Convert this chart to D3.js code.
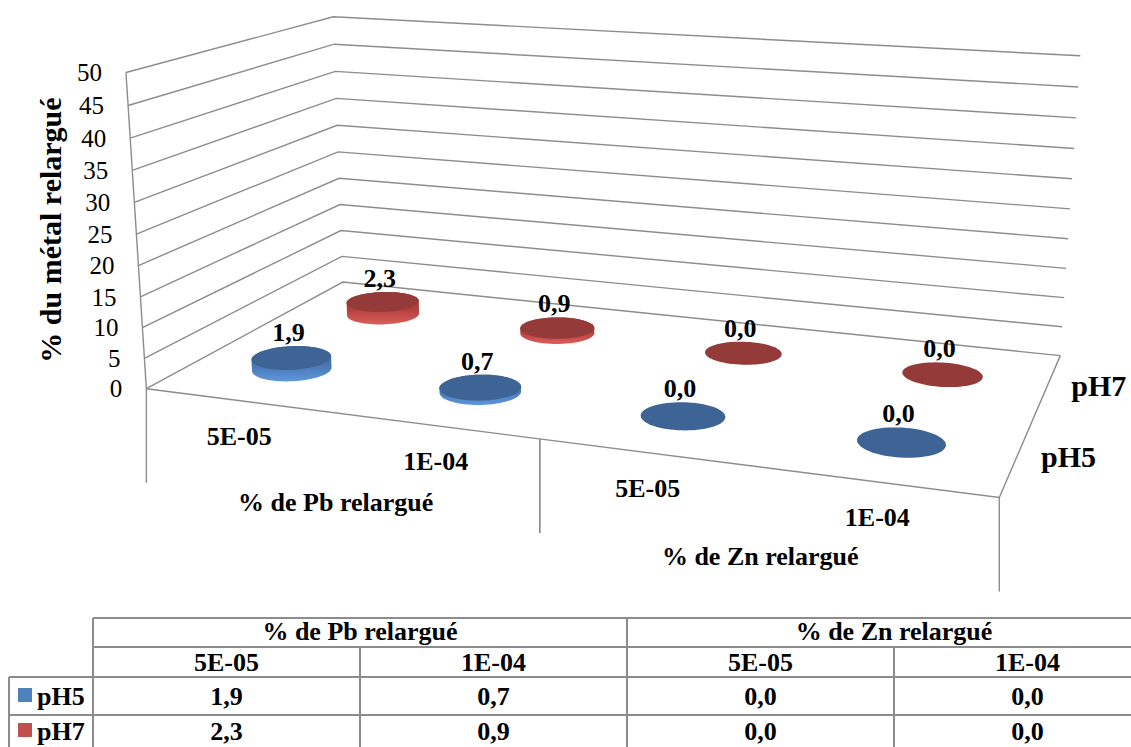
<!DOCTYPE html>
<html lang="fr">
<head>
  <meta charset="UTF-8" />
  <title>% du métal relargué</title>
  <script src="https://cdnjs.cloudflare.com/ajax/libs/d3/7.8.5/d3.min.js"></script>
  <style>
    body {
      margin: 0;
      background: #fff;
    }

    svg {
      display: block;
    }

    text {
      font-family: "Liberation Serif", "Times New Roman", "DejaVu Serif", serif;
      fill: #000;
    }

    .grid {
      stroke: #8c8c8c;
      stroke-width: 1.4px;
      fill: none;
    }

    .tbl {
      stroke: #8c8c8c;
      stroke-width: 2px;
    }

    .bold {
      font-weight: bold;
    }
  </style>
</head>
<body>
  <svg width="1131" height="747"></svg>

  <script>
    // data
    const groups = ["% de Pb relargué", "% de Zn relargué"];
    const doses = ["5E-05", "1E-04"];
    const series = ["pH5", "pH7"];
    const pH5 = [1.9, 0.7, 0.0, 0.0];
    const pH7 = [2.3, 0.9, 0.0, 0.0];
    const yMax = 50;
    const yTitle = "% du métal relargué";

    const values = { pH5: pH5, pH7: pH7 };
    const colors = {
      pH5: { base: "#4f81bd", top: "#3d6494", mid: "#4977b3", light: "#5e97de" },
      pH7: { base: "#c0504d", top: "#943a38", mid: "#b4403e", light: "#dc5e5a" }
    };

    const categories = groups.flatMap((g, gi) =>
      doses.map(d => ({ group: g, gi: gi, dose: d, key: gi + "|" + d })));

    const fmt = d3.formatLocale({ decimal: ",", thousands: " ", grouping: [3], currency: ["", ""] }).format(".1f");

    const svg = d3.select("svg");

    // scales in a unit cube: x = category, z = series depth, y = value
    const xBand = d3.scaleBand().domain(categories.map(c => c.key)).range([0, 1]);
    const zBand = d3.scaleBand().domain(series).range([0, 1]);
    const yVal = d3.scaleLinear().domain([0, yMax]).range([0, 1]);

    // perspective camera fitted on the corners of the plot box
    const anchors = [
      [0, 0, 0, 146, 389], [1, 0, 0, 999, 498], [1, 1, 0, 1060, 355], [0, 1, 0, 343, 282],
      [0, 0, 1, 126, 72], [0, 1, 1, 333, 17], [1, 1, 1, 1080, 56],
      [0, 0, 0.5, 137, 234], [0, 1, 0.5, 338, 152], [1, 1, 0.5, 1071, 209]
    ];

    function fitCamera(pts) {
      const n = 11;
      const M = Array.from({ length: n }, () => new Array(n + 1).fill(0));
      const add = (row, rhs) => {
        for (let i = 0; i < n; i++) {
          for (let j = 0; j < n; j++) M[i][j] += row[i] * row[j];
          M[i][n] += row[i] * rhs;
        }
      };
      pts.forEach(([X, Y, Z, x, y]) => {
        add([X, Y, Z, 1, 0, 0, 0, 0, -x * X, -x * Y, -x * Z], x);
        add([0, 0, 0, 0, X, Y, Z, 1, -y * X, -y * Y, -y * Z], y);
      });
      for (let c = 0; c < n; c++) {
        let p = c;
        for (let r = c + 1; r < n; r++) if (Math.abs(M[r][c]) > Math.abs(M[p][c])) p = r;
        [M[c], M[p]] = [M[p], M[c]];
        for (let r = 0; r < n; r++) {
          if (r === c) continue;
          const f = M[r][c] / M[c][c];
          for (let k = c; k <= n; k++) M[r][k] -= f * M[c][k];
        }
      }
      return M.map((row, i) => row[n] / row[i]);
    }

    const cam = fitCamera(anchors);

    // X along categories, D along depth, H up
    function P(X, D, H) {
      const w = cam[8] * X + cam[9] * D + cam[10] * H + 1;
      return [
        (cam[0] * X + cam[1] * D + cam[2] * H + cam[3]) / w,
        (cam[4] * X + cam[5] * D + cam[6] * H + cam[7]) / w
      ];
    }

    const line = d3.line();
    const ring = d3.line().curve(d3.curveLinearClosed);

    // walls: gridlines on the left wall and back wall
    const walls = svg.append("g");
    yVal.ticks(10).forEach(t => {
      const h = yVal(t);
      walls.append("path")
        .attr("class", "grid")
        .attr("d", line([P(0, 0, h), P(0, 1, h), P(1, 1, h)]));
    });
    walls.append("path").attr("class", "grid").attr("d", line([P(0, 0, 0), P(0, 0, 1)]));
    walls.append("path").attr("class", "grid").attr("d", line([P(0, 0, 0), P(1, 0, 0), P(1, 1, 0)]));

    // value axis tick labels
    svg.append("g")
      .selectAll("text")
      .data(yVal.ticks(10))
      .join("text")
      .attr("x", d => P(0, 0, yVal(d))[0] - 24)
      .attr("y", d => P(0, 0, yVal(d))[1])
      .attr("dy", "0.35em")
      .attr("text-anchor", "end")
      .attr("font-size", "25px")
      .text(d => d);

    svg.append("text")
      .attr("class", "bold")
      .attr("transform", "translate(50,230) rotate(-90)")
      .attr("text-anchor", "middle")
      .attr("dy", "0.35em")
      .attr("font-size", "30px")
      .text(yTitle);

    // gradients for cylinder sides
    const defs = svg.append("defs");
    series.forEach(s => {
      const g = defs.append("linearGradient")
        .attr("id", "side-" + s)
        .attr("x1", 0).attr("y1", 0).attr("x2", 0).attr("y2", 1);
      g.append("stop").attr("offset", 0).attr("stop-color", colors[s].top);
      g.append("stop").attr("offset", 0.55).attr("stop-color", colors[s].mid);
      g.append("stop").attr("offset", 1).attr("stop-color", colors[s].light);
    });

    // cylinders, back row first
    const ru = 0.048, rv = 0.095;
    const angles = d3.range(0, 2 * Math.PI, Math.PI / 36);
    const bars = svg.append("g");
    const labels = [];

    series.slice().reverse().forEach(s => {
      categories.forEach((c, i) => {
        const v = values[s][i];
        const cx = xBand(c.key) + xBand.bandwidth() / 2;
        const cd = zBand(s) + zBand.bandwidth() / 2;
        const h = yVal(v);
        const bottom = angles.map(a => P(cx + ru * Math.cos(a), cd + rv * Math.sin(a), 0));
        const top = angles.map(a => P(cx + ru * Math.cos(a), cd + rv * Math.sin(a), h));

        if (h > 0) {
          bars.append("path")
            .attr("d", ring(d3.polygonHull(bottom.concat(top))))
            .attr("fill", `url(#side-${s})`);
        }
        bars.append("path")
          .attr("d", ring(top))
          .attr("fill", colors[s].top);

        const center = P(cx, cd, h);
        labels.push({ x: center[0] - 3, y: d3.min(top, p => p[1]) - 5, text: fmt(v) });
      });
    });

    svg.append("g")
      .selectAll("text")
      .data(labels)
      .join("text")
      .attr("class", "bold")
      .attr("x", d => d.x)
      .attr("y", d => d.y)
      .attr("text-anchor", "middle")
      .attr("font-size", "26px")
      .text(d => d.text);

    // category axis: doses, groups and separators
    const axis = svg.append("g");
    categories.forEach(c => {
      const p = P(xBand(c.key) + xBand.bandwidth() / 2, 0, 0);
      axis.append("text")
        .attr("class", "bold")
        .attr("x", p[0])
        .attr("y", p[1] + 35)
        .attr("dy", "0.35em")
        .attr("text-anchor", "middle")
        .attr("font-size", "26px")
        .text(c.dose);
    });
    groups.forEach((g, gi) => {
      const keys = categories.filter(c => c.gi === gi).map(c => c.key);
      const x0 = xBand(keys[0]);
      const x1 = xBand(keys[keys.length - 1]) + xBand.bandwidth();
      const p = P((x0 + x1) / 2, 0, 0);
      axis.append("text")
        .attr("class", "bold")
        .attr("x", p[0])
        .attr("y", p[1] + 89)
        .attr("dy", "0.35em")
        .attr("text-anchor", "middle")
        .attr("font-size", "26px")
        .text(g);
      [x0, x1].forEach(u => {
        const q = P(u, 0, 0);
        axis.append("line")
          .attr("class", "grid")
          .attr("x1", q[0]).attr("y1", q[1])
          .attr("x2", q[0]).attr("y2", q[1] + 94);
      });
    });

    // series axis labels
    series.forEach(s => {
      const p = P(1, zBand(s) + zBand.bandwidth() / 2, 0);
      axis.append("text")
        .attr("class", "bold")
        .attr("x", p[0] + 24)
        .attr("y", p[1])
        .attr("dy", "0.35em")
        .attr("font-size", "30px")
        .text(s);
    });

    // data table
    const tLeft = 93, legLeft = 9, colW = 267;
    const rowY = [618, 647, 677, 715, 753];
    const tRight = tLeft + categories.length * colW;
    const colX = d3.scaleLinear().domain([0, categories.length]).range([tLeft, tRight]);
    const table = svg.append("g");

    [[rowY[0], tLeft], [rowY[1], tLeft], [rowY[2], legLeft], [rowY[3], legLeft]].forEach(([y, x0]) => {
      table.append("line").attr("class", "tbl")
        .attr("x1", x0).attr("x2", tRight).attr("y1", y).attr("y2", y);
    });
    table.append("line").attr("class", "tbl")
      .attr("x1", legLeft).attr("x2", legLeft).attr("y1", rowY[2]).attr("y2", rowY[4]);
    d3.range(categories.length + 1).forEach(i => {
      const top = i % doses.length === 0 ? rowY[0] : rowY[1];
      table.append("line").attr("class", "tbl")
        .attr("x1", colX(i)).attr("x2", colX(i)).attr("y1", top).attr("y2", rowY[4]);
    });

    groups.forEach((g, gi) => {
      table.append("text").attr("class", "bold")
        .attr("x", colX(gi * doses.length + doses.length / 2))
        .attr("y", 640)
        .attr("text-anchor", "middle")
        .attr("font-size", "26px")
        .text(g);
    });
    categories.forEach((c, i) => {
      table.append("text").attr("class", "bold")
        .attr("x", colX(i + 0.5))
        .attr("y", 671)
        .attr("text-anchor", "middle")
        .attr("font-size", "26px")
        .text(c.dose);
    });
    const rowBase = [705, 740];
    series.forEach((s, si) => {
      table.append("rect")
        .attr("x", 18).attr("y", rowBase[si] - 17)
        .attr("width", 14).attr("height", 14)
        .attr("fill", colors[s].base);
      table.append("text").attr("class", "bold")
        .attr("x", 37).attr("y", rowBase[si])
        .attr("font-size", "26px")
        .text(s);
      values[s].forEach((v, i) => {
        table.append("text").attr("class", "bold")
          .attr("x", colX(i + 0.5))
          .attr("y", rowBase[si])
          .attr("text-anchor", "middle")
          .attr("font-size", "26px")
          .text(fmt(v));
      });
    });
  </script>
</body>
</html>
